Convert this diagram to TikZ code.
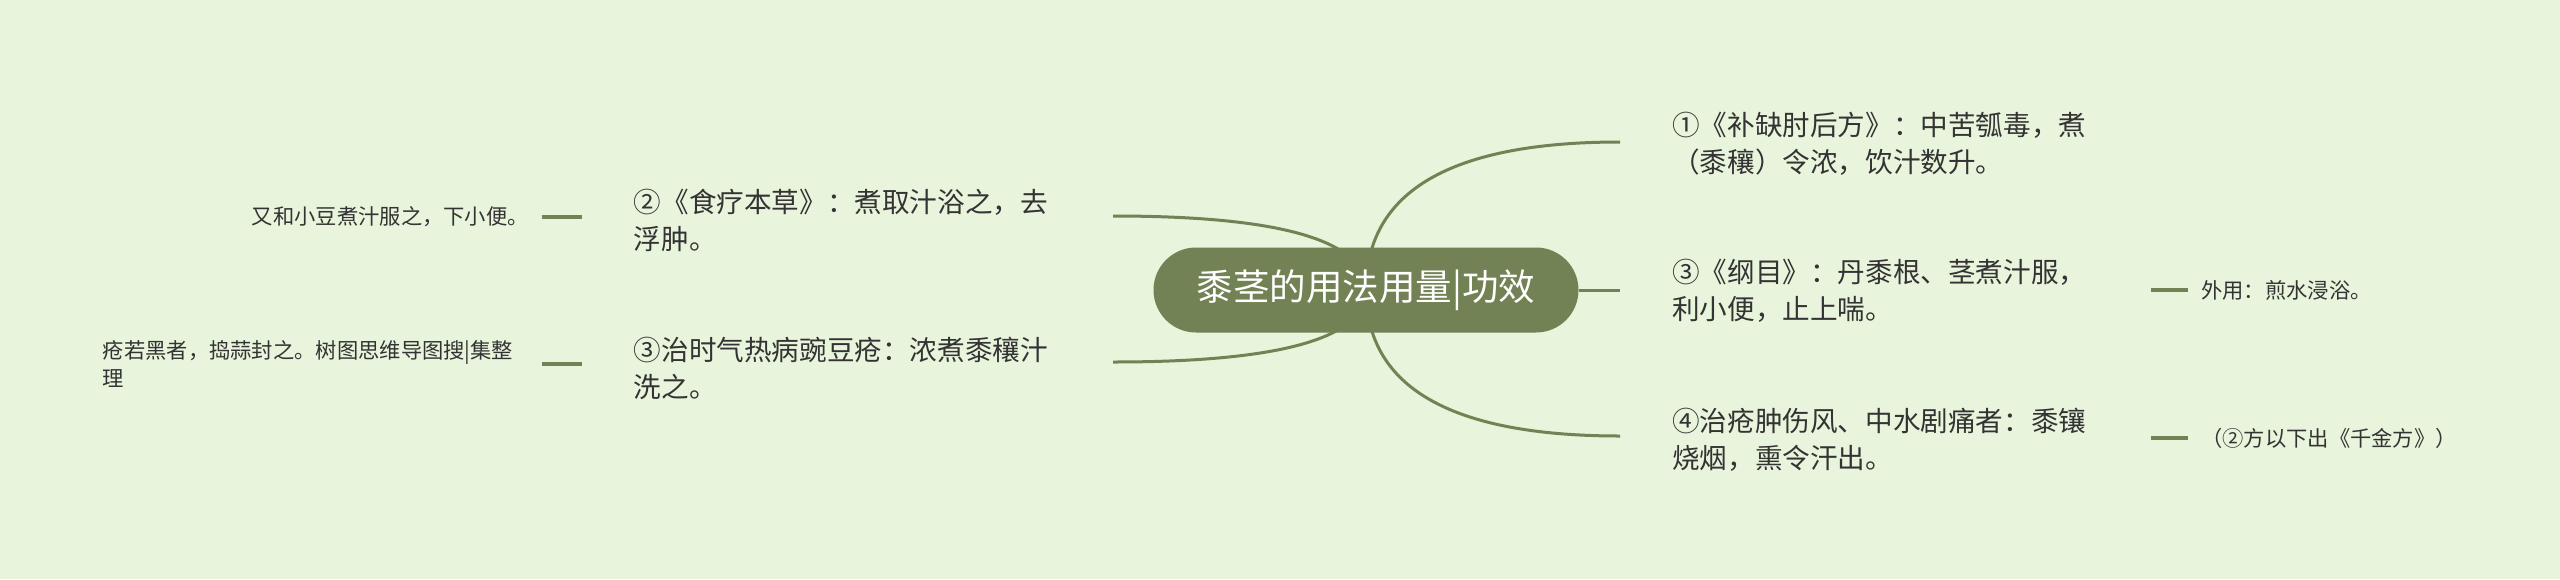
\documentclass[tikz,border=0pt]{standalone}
\usepackage{fontspec}
\setmainfont{Noto Sans CJK SC}
\usetikzlibrary{calc}
\definecolor{paper}{HTML}{E8F4DB}
\definecolor{moss}{HTML}{738254}
\definecolor{ink}{HTML}{333333}
\pgfdeclarelayer{back}
\pgfsetlayers{back,main}
\begin{document}
\begin{tikzpicture}[x=1pt,y=-1pt,
    link/.style={draw=moss,line width=3pt},
    topic/.style={text=ink,align=left,text width=427pt,inner xsep=52pt,inner ysep=0pt,
        font=\fontsize{27.6pt}{37pt}\selectfont},
    leaf/.style={text=ink,align=left,inner xsep=13pt,inner ysep=0pt,
        font=\fontsize{21.3pt}{28pt}\selectfont}]
\useasboundingbox (0,0) rectangle (2560,579);
\path
    (1366,290) node [fill=moss,text=white,minimum width=425pt,minimum height=85pt,
        rounded corners=42.5pt,font=\fontsize{36.5pt}{44pt}\selectfont] (root) {黍茎的用法用量|功效};
\path
    [topic,anchor=west]
    (1620,143.5) node (rp1) {①《补缺肘后方》：中苦瓠毒，煮\\（黍穰）令浓，饮汁数升。}
    (1620,291) node (rp2) {③《纲目》：丹黍根、茎煮汁服，\\利小便，止上喘。}
    (1620,440) node (rp3) {④治疮肿伤风、中水剧痛者：黍镶\\烧烟，熏令汗出。};
\path
    [topic,anchor=east]
    (1113,220) node (lp1) {②《食疗本草》：煮取汁浴之，去\\浮肿。}
    (1113,368) node (lp2) {③治时气热病豌豆疮：浓煮黍穰汁\\洗之。};
\path
    [leaf,anchor=west]
    (2188,290) node (rl1) {外用：煎水浸浴。}
    (2188,438) node (rl2) {（②方以下出《千金方》）};
\path
    [leaf,anchor=east]
    (542,217) node (ll1) {又和小豆煮汁服之，下小便。}
    (542,364) node [text width=426pt] (ll2) {疮若黑者，捣蒜封之。树图思维导图搜|集整\\理};
\path
    ([yshift=1.5pt]rp1.west) coordinate (rp1end)
    ([yshift=4pt]rp3.west) coordinate (rp3end)
    ([yshift=4pt]lp1.east) coordinate (lp1end)
    ([yshift=6pt]lp2.east) coordinate (lp2end);
\begin{pgfonlayer}{back}
\fill [paper] (0,0) rectangle (2560,579);
\draw [link] (root.center) .. controls ($(root.center)!2/3!(root.center |- rp1end)$)
    and ($(rp1end)!2/3!(root.center |- rp1end)$) .. (rp1end);
\draw [link] (root.center) .. controls ($(root.center)!2/3!(root.center |- rp3end)$)
    and ($(rp3end)!2/3!(root.center |- rp3end)$) .. (rp3end);
\draw [link] (root.center) .. controls ($(root.center)!2/3!(root.center |- lp1end)$)
    and ($(lp1end)!2/3!(root.center |- lp1end)$) .. (lp1end);
\draw [link] (root.center) .. controls ($(root.center)!2/3!(root.center |- lp2end)$)
    and ($(lp2end)!2/3!(root.center |- lp2end)$) .. (lp2end);
\draw [link] (root.east) -- (root.east -| rp2.west);
\draw [link,line width=4pt] (rp2.east |- rl1.west) -- (rl1.west);
\draw [link,line width=4pt] (rp3.east |- rl2.west) -- (rl2.west);
\draw [link,line width=4pt] (lp1.west |- ll1.east) -- (ll1.east);
\draw [link,line width=4pt] (lp2.west |- ll2.east) -- (ll2.east);
\end{pgfonlayer}
\end{tikzpicture}
\end{document}
